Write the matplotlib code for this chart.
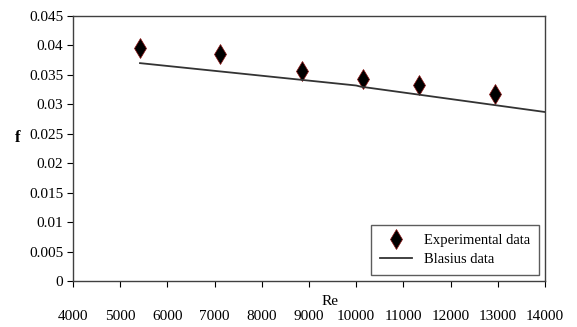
import matplotlib
matplotlib.use("Agg")
import matplotlib.pyplot as plt

# experimental points
re_exp = [5420, 7110, 8850, 10140, 11330, 12940]
f_exp = [0.0396, 0.0385, 0.0357, 0.0343, 0.0333, 0.0318]

# Blasius line
re_bl = [5420, 10000, 10100, 14000]
f_bl = [0.0370, 0.0332, 0.0330, 0.0287]

x_ticks = [4000, 5000, 6000, 7000, 8000, 9000, 10000, 11000, 12000, 13000, 14000]
y_ticks = [0, 0.005, 0.01, 0.015, 0.02, 0.025, 0.03, 0.035, 0.04, 0.045]
y_labels = ["0", "0.005", "0.01", "0.015", "0.02", "0.025", "0.03", "0.035", "0.04", "0.045"]

plt.rcParams['font.family'] = ['Liberation Serif', 'DejaVu Serif']

fig = plt.figure(figsize=(5.77, 3.27), dpi=100)
ax = fig.add_axes([0.1265, 0.1407, 0.818, 0.8103])

ax.plot(re_exp, f_exp, linestyle="none", marker="d", markersize=10,
        markerfacecolor="black", markeredgecolor="#8a1010", markeredgewidth=0.5,
        label="Experimental data")
ax.plot(re_bl, f_bl, color="#333333", linewidth=1.3, label="Blasius data")

ax.set_xlim(4000, 14000)
ax.set_ylim(0, 0.045)
ax.set_xticks(x_ticks)
ax.set_xticklabels([str(t) for t in x_ticks])
ax.set_yticks(y_ticks)
ax.set_yticklabels(y_labels)

ax.tick_params(axis="x", direction="out", length=4, pad=17, labelsize=11)
ax.tick_params(axis="y", direction="out", length=4, pad=3, labelsize=11)
for s in ax.spines.values():
    s.set_color("#404040")
    s.set_linewidth(1.0)

ax.set_xlabel("Re", fontsize=11)
ax.xaxis.set_label_coords(0.544, -0.053)
ax.set_ylabel("f", fontsize=12, fontweight="bold", rotation=0)
ax.yaxis.set_label_coords(-0.118, 0.51)

leg = ax.legend(loc="lower right", bbox_to_anchor=(0.987, 0.023), borderaxespad=0,
                fancybox=False, edgecolor="#333333", fontsize=10.5, handlelength=2.2,
                borderpad=0.6, labelspacing=0.4)
leg.get_frame().set_linewidth(1.0)

fig.savefig("out.png", dpi=100)
